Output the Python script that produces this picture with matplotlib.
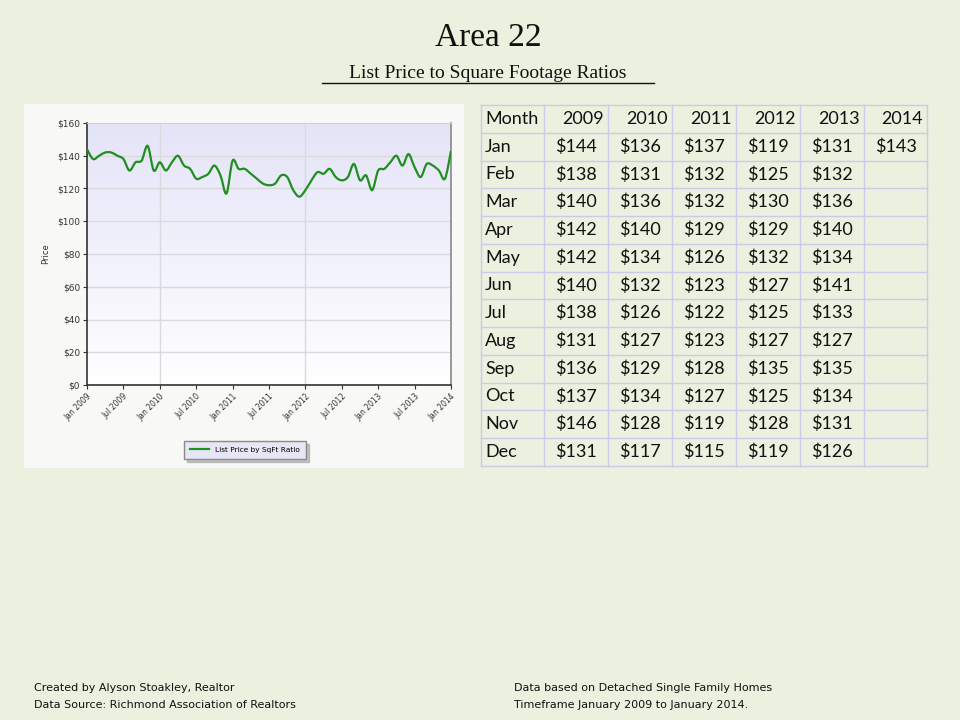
import numpy as np
import matplotlib
matplotlib.use("Agg")
from matplotlib import pyplot as plt
from matplotlib.patches import Rectangle, PathPatch
from matplotlib.path import Path
from matplotlib.lines import Line2D

# monthly list price per sq ft, Jan..Dec
months = ["Jan", "Feb", "Mar", "Apr", "May", "Jun",
          "Jul", "Aug", "Sep", "Oct", "Nov", "Dec"]
years = ["2009", "2010", "2011", "2012", "2013", "2014"]
p2009 = [144, 138, 140, 142, 142, 140, 138, 131, 136, 137, 146, 131]
p2010 = [136, 131, 136, 140, 134, 132, 126, 127, 129, 134, 128, 117]
p2011 = [137, 132, 132, 129, 126, 123, 122, 123, 128, 127, 119, 115]
p2012 = [119, 125, 130, 129, 132, 127, 125, 127, 135, 125, 128, 119]
p2013 = [131, 132, 136, 140, 134, 141, 133, 127, 135, 134, 131, 126]
p2014 = [143]
columns = [p2009, p2010, p2011, p2012, p2013, p2014]

series = p2009 + p2010 + p2011 + p2012 + p2013 + p2014
tick_labels = ["Jan 2009", "Jul 2009", "Jan 2010", "Jul 2010", "Jan 2011",
               "Jul 2011", "Jan 2012", "Jul 2012", "Jan 2013", "Jul 2013",
               "Jan 2014"]

W, H = 960, 720
fig = plt.figure(figsize=(9.6, 7.2), dpi=100)
fig.patch.set_facecolor("#ebf0df")

# full-figure axes in pixel coords for the decorations
bg = fig.add_axes([0, 0, 1, 1])
bg.set_xlim(0, W)
bg.set_ylim(H, 0)
bg.axis("off")

# titles
bg.text(488, 38, "Area 22", ha="center", va="center", fontsize=24,
        family="Liberation Serif", color="#111111")
bg.text(488, 73, "List Price to Square Footage Ratios", ha="center",
        va="center", fontsize=14, family="Liberation Serif", color="#111111")
bg.plot([322, 654], [83, 83], color="#111111", lw=1)

# white panel behind chart
bg.add_patch(Rectangle((24, 104), 440, 364, facecolor="#f8f8f6",
                       edgecolor="none"))

# table
col_edges = [481, 544, 608, 672, 736, 800, 864, 927]
row_top = 105
row_h = 27.75
n_rows = len(months) + 1
grid_c = "#c9cbe8"
for xe in col_edges:
    bg.plot([xe, xe], [row_top, row_top + n_rows * row_h], color=grid_c, lw=1)
for r in range(n_rows + 1):
    ye = row_top + r * row_h
    bg.plot([col_edges[0], col_edges[-1]], [ye, ye], color=grid_c, lw=1)

tfont = dict(fontsize=13, family="Lato", color="#111111", va="center")
yc = row_top + row_h / 2
bg.text(col_edges[0] + 4, yc, "Month", ha="left", **tfont)
for j, yr in enumerate(years):
    bg.text(col_edges[j + 2] - 4, yc, yr, ha="right", **tfont)
for i, m in enumerate(months):
    yc = row_top + (i + 1.5) * row_h
    bg.text(col_edges[0] + 4, yc, m, ha="left", **tfont)
    for j, vals in enumerate(columns):
        if i < len(vals):
            xc = (col_edges[j + 1] + col_edges[j + 2]) / 2
            bg.text(xc, yc, f"${vals[i]}", ha="center", **tfont)

# footer
ffont = dict(fontsize=8, family="DejaVu Sans", color="#111111", va="center")
bg.text(34, 688, "Created by Alyson Stoakley, Realtor", ha="left", **ffont)
bg.text(34, 705, "Data Source: Richmond Association of Realtors", ha="left", **ffont)
bg.text(514, 688, "Data based on Detached Single Family Homes", ha="left", **ffont)
bg.text(514, 705, "Timeframe January 2009 to January 2014.", ha="left", **ffont)

# chart axes
ax = fig.add_axes([87 / W, 1 - 385 / H, (451 - 87) / W, (385 - 123) / H])
x = np.arange(len(series))
ax.set_xlim(0, len(series) - 1)
ax.set_ylim(0, 160)

grad = np.linspace(0, 1, 256).reshape(-1, 1)
ax.imshow(grad, extent=[0, len(series) - 1, 0, 160], aspect="auto",
          cmap=matplotlib.colors.LinearSegmentedColormap.from_list(
              "g", ["#ffffff", "#e4e4f8"]), origin="lower", zorder=0)

for yv in range(20, 160, 20):
    ax.axhline(yv, color="#dadade", lw=1, zorder=1)
for xv in [12, 36]:
    ax.axvline(xv, color="#dadade", lw=1, zorder=1)

# smooth line through every data point (Catmull-Rom drawn as bezier curves)
pts = np.column_stack([x, series]).astype(float)
ext = np.vstack([pts[0], pts, pts[-1]])
verts = [pts[0]]
codes = [Path.MOVETO]
for i in range(len(pts) - 1):
    p0, p1, p2, p3 = ext[i], ext[i + 1], ext[i + 2], ext[i + 3]
    verts += [p1 + (p2 - p0) / 6, p2 - (p3 - p1) / 6, p2]
    codes += [Path.CURVE4] * 3
line_c = "#1f8f1f"
ax.add_patch(PathPatch(Path(verts, codes), facecolor="none",
                       edgecolor=line_c, lw=1.6, zorder=3))

ax.set_yticks(range(0, 161, 20))
ax.set_yticklabels([f"${v}" for v in range(0, 161, 20)], fontsize=6.5,
                   color="#333333")
ax.set_xticks(range(0, len(series), 6))
ax.set_xticklabels(tick_labels, rotation=45, ha="right",
                   rotation_mode="anchor", fontsize=5.5, color="#333333")
ax.tick_params(length=3, width=0.8, color="#333333", pad=2)
ax.set_ylabel("Price", fontsize=6, color="#333333", labelpad=5)

ax.spines["left"].set_color("#333333")
ax.spines["bottom"].set_color("#333333")
ax.spines["left"].set_linewidth(1.2)
ax.spines["bottom"].set_linewidth(1.2)
ax.spines["top"].set_color("#d0d0d8")
ax.spines["right"].set_color("#888888")
ax.spines["right"].set_linewidth(1.2)

handle = Line2D([], [], color=line_c, lw=1.6)
leg = fig.legend([handle], ["List Price by SqFt Ratio"], loc="center",
                 bbox_to_anchor=(245 / W, 1 - 450 / H),
                 fontsize=5.3, frameon=True, fancybox=False,
                 shadow={"color": "#aaaaaa", "alpha": 0.7, "ox": 2, "oy": -2},
                 handlelength=2.6, borderpad=0.8)
leg.get_frame().set_facecolor("#e6e6f6")
leg.get_frame().set_edgecolor("#8a8a8a")

fig.savefig("out.png", dpi=100, facecolor=fig.get_facecolor())
